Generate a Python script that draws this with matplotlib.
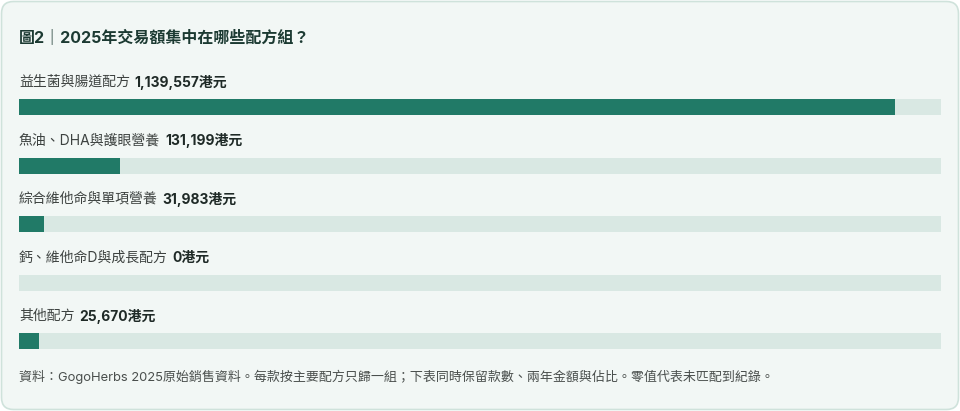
import matplotlib
matplotlib.use("Agg")
import matplotlib.pyplot as plt
from matplotlib.patches import FancyBboxPatch

plt.rcParams['font.family'] = ['Inter', 'Noto Sans CJK TC', 'DejaVu Sans']

title = "圖2｜2025年交易額集中在哪些配方組？"
categories = ["益生菌與腸道配方", "魚油、DHA與護眼營養", "綜合維他命與單項營養", "鈣、維他命D與成長配方", "其他配方"]
values = [1139557, 131199, 31983, 0, 25670]
scale_max = 1200000
footnote = "資料：GogoHerbs 2025原始銷售資料。每款按主要配方只歸一組；下表同時保留款數、兩年金額與佔比。零值代表未匹配到紀錄。"

W, H = 960, 411
fig = plt.figure(figsize=(W / 100, H / 100), dpi=100)
fig.patch.set_facecolor("white")

# card
card = FancyBboxPatch((1.5 / W, 1.5 / H), (W - 3) / W, (H - 3) / H,
                      boxstyle="round,pad=0,rounding_size=0.0125",
                      transform=fig.transFigure, facecolor="#f2f7f5",
                      edgecolor="#cfe2db", linewidth=1.2, mutation_aspect=W / H,
                      zorder=-10)
fig.patches.append(card)

fig.text(19 / W, 1 - 38 / H, title, fontsize=11.5, fontweight="bold",
         color="#1c3a32", va="center", ha="left")

# bars axes
row = 58.5
top_px = 107 - row / 2
bot_px = 341 + row / 2
ax = fig.add_axes([19 / W, 1 - bot_px / H, (941 - 19) / W, (bot_px - top_px) / H])
ax.set_facecolor("none")
ax.set_xlim(0, scale_max)
ax.set_ylim(len(categories) - 0.5, -0.5)
ax.axis("off")

bar_h = 16 / row
ypos = list(range(len(categories)))
ax.barh(ypos, [scale_max] * len(categories), height=bar_h, color="#d9e8e3", left=0)
ax.barh(ypos, values, height=bar_h, color="#217a67")

for i, (c, v) in enumerate(zip(categories, values)):
    t = ax.text(0, i - 25 / row, c, fontsize=10, color="#3d4240", va="center", ha="left")
    ax.annotate(f"{v:,}港元", xy=(1, 0.5), xycoords=t, xytext=(3.5, 0),
                textcoords="offset points", fontsize=10, fontweight="bold",
                color="#1f2a27", va="center", ha="left")

fig.text(19 / W, 1 - 377 / H, footnote, fontsize=9.35, color="#4a4f4d",
         va="center", ha="left")

fig.savefig("out.png", dpi=100, facecolor="white")
